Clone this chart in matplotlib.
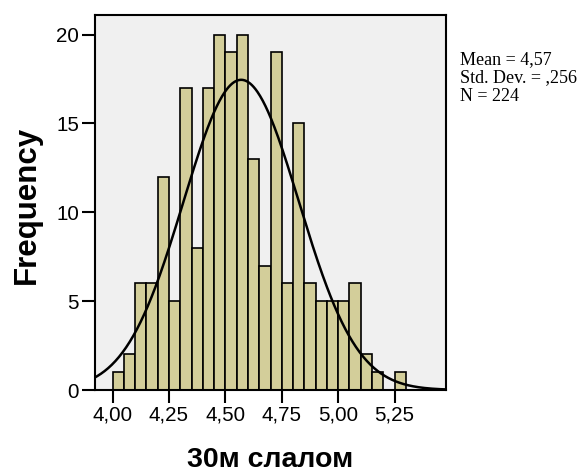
import numpy as np
import matplotlib
matplotlib.use("Agg")
import matplotlib.pyplot as plt

# Data
bin_start = 4.00
bin_width = 0.05
counts = [1, 2, 6, 6, 12, 5, 17, 8, 17, 20, 19, 20, 13, 7, 19, 6, 15, 6, 5, 5, 5, 6, 2, 1, 0, 1]
mean = 4.57
std = 0.256
n = 224
xticks = [4.00, 4.25, 4.50, 4.75, 5.00, 5.25]
xtick_labels = ["4,00", "4,25", "4,50", "4,75", "5,00", "5,25"]
yticks = [0, 5, 10, 15, 20]

fig = plt.figure(figsize=(5.84, 4.75), dpi=100)
ax = fig.add_axes([95/584, 1-390/475, (446-95)/584, (390-15)/475])
ax.set_facecolor("#F0F0F0")

lefts = bin_start + bin_width*np.arange(len(counts))
ax.bar(lefts, counts, width=bin_width, align="edge", color="#D3CE9A",
       edgecolor="black", linewidth=1.2, zorder=2)

xs = np.linspace(3.90, 5.50, 400)
ys = n*bin_width/(std*np.sqrt(2*np.pi))*np.exp(-0.5*((xs-mean)/std)**2)
ax.plot(xs, ys, color="black", linewidth=1.8, zorder=3)

ax.set_xlim(3.922, 5.478)
ax.set_ylim(0, 21.1)
ax.set_xticks(xticks)
ax.set_xticklabels(xtick_labels)
ax.set_yticks(yticks)
for s in ax.spines.values():
    s.set_color("black")
    s.set_linewidth(1.5)
ax.tick_params(direction="out", length=9.5, width=1.5, labelsize=14.8, pad=2)
for lab in ax.get_xticklabels() + ax.get_yticklabels():
    lab.set_family("Liberation Sans")

fig.text(270/584, 1-467/475, "30м слалом", fontsize=20.5, fontweight="bold",
         family="Liberation Sans", ha="center", va="baseline")
fig.text(27/584, 1-205/475, "Frequency", fontsize=22.5, fontweight="bold",
         family="Liberation Sans", ha="center", va="center", rotation=90)

fig.text(460/584, 1-78/475, "Mean = 4,57\nStd. Dev. = ,256\nN = 224", family="Liberation Serif",
         fontsize=13, va="center", ha="left", linespacing=1.12)

fig.savefig("out.png", dpi=100)
